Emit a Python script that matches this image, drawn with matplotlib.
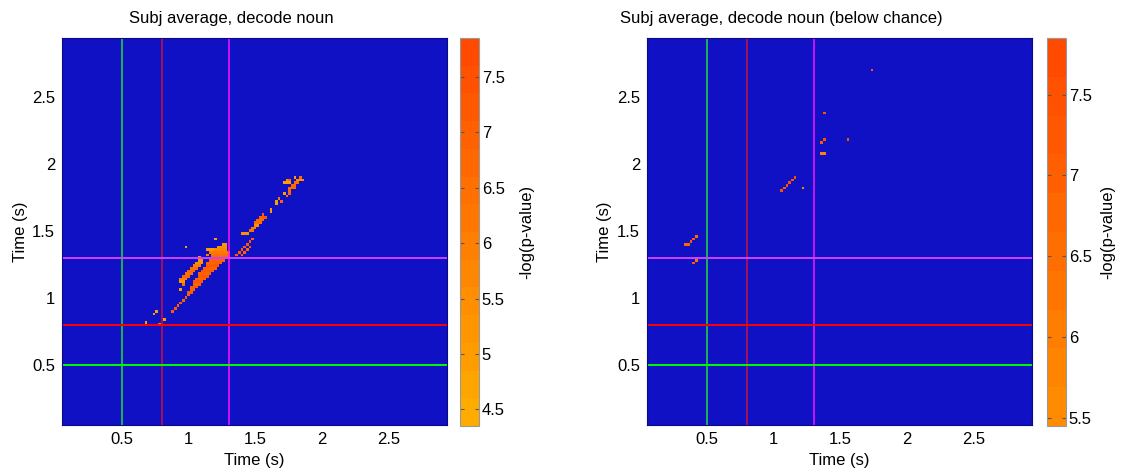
import numpy as np
import matplotlib
matplotlib.use('Agg')
import matplotlib.pyplot as plt
from matplotlib.colors import ListedColormap

plt.rcParams['font.family'] = ['Liberation Sans', 'DejaVu Sans']

# time grid of the decoding maps (seconds)
cell = 0.02
t_first = 0.06
n_cells = 145

ticks = [0.5, 1, 1.5, 2, 2.5]
tick_labels = ['0.5', '1', '1.5', '2', '2.5']

# event markers (word onsets)
event_times = [0.5, 0.8, 1.3]
vline_colors = ['#20e030', '#d0103a', '#ff10ff']
hline_colors = ['#00ff00', '#ff0000', '#d040ff']

titles = ['Subj average, decode noun', 'Subj average, decode noun (below chance)']

# significant cells: (y time, x start, x end, -log p)
left_rows = [
    (0.80, 0.68, 0.68, 5.0), (0.82, 0.68, 0.68, 5.2), (0.80, 0.78, 0.78, 6.2),
    (0.84, 0.82, 0.82, 5.0), (0.88, 0.74, 0.74, 5.2), (0.90, 0.76, 0.76, 5.0),
    # thin diagonal
    (0.90, 0.88, 0.88, 7.2), (0.92, 0.90, 0.90, 7.2), (0.94, 0.92, 0.92, 7.0),
    (0.96, 0.94, 0.94, 7.2), (0.98, 0.96, 0.96, 7.0), (1.00, 0.98, 0.98, 7.2),
    (1.02, 1.00, 1.00, 7.0), (1.06, 0.94, 0.94, 5.0), (1.10, 0.96, 0.96, 6.5),
    # main streak
    (1.04, 1.00, 1.02, 7.2), (1.06, 1.02, 1.04, 7.0), (1.08, 1.02, 1.06, 7.2),
    (1.10, 1.04, 1.08, 7.0), (1.12, 1.04, 1.10, 7.2), (1.14, 1.06, 1.12, 7.0),
    (1.16, 1.08, 1.14, 7.2), (1.18, 1.08, 1.16, 7.0), (1.20, 1.10, 1.18, 7.1),
    (1.22, 1.12, 1.20, 7.0), (1.24, 1.14, 1.22, 7.2), (1.26, 1.14, 1.24, 6.9),
    (1.28, 1.16, 1.26, 7.0), (1.30, 1.18, 1.30, 6.8),
    # blob at the crossing
    (1.32, 1.18, 1.30, 6.4), (1.34, 1.16, 1.30, 6.1), (1.36, 1.20, 1.28, 5.8),
    (1.36, 1.14, 1.14, 5.2), (1.36, 1.16, 1.18, 5.0), (1.38, 1.22, 1.28, 5.5),
    (1.40, 1.26, 1.28, 5.3), (1.44, 1.20, 1.20, 5.0), (1.38, 0.98, 0.98, 5.0),
    (1.32, 1.14, 1.14, 6.0),
    # upper streak
    (1.12, 0.94, 0.96, 5.3), (1.14, 0.94, 0.98, 6.0), (1.16, 0.96, 1.00, 6.8),
    (1.18, 0.98, 1.02, 6.5), (1.20, 1.00, 1.04, 6.8), (1.22, 1.02, 1.06, 6.5),
    (1.24, 1.04, 1.08, 6.0), (1.26, 1.06, 1.10, 5.5), (1.28, 1.08, 1.10, 5.2),
    (1.30, 1.08, 1.08, 5.0),
    # double thin line after the crossing
    (1.32, 1.36, 1.36, 7.3), (1.34, 1.38, 1.38, 7.3), (1.36, 1.40, 1.40, 7.2),
    (1.38, 1.42, 1.42, 7.3), (1.40, 1.44, 1.44, 7.2), (1.42, 1.46, 1.46, 7.3),
    (1.44, 1.48, 1.48, 7.0), (1.32, 1.40, 1.40, 7.0), (1.34, 1.42, 1.42, 7.0),
    (1.36, 1.44, 1.44, 6.8), (1.38, 1.46, 1.46, 7.0), (1.48, 1.40, 1.44, 5.5),
    (1.50, 1.46, 1.48, 6.5), (1.52, 1.48, 1.50, 6.0), (1.54, 1.50, 1.52, 5.5),
    (1.56, 1.50, 1.54, 6.5), (1.58, 1.52, 1.56, 6.8), (1.60, 1.54, 1.56, 7.0),
    (1.62, 1.56, 1.56, 7.2), (1.60, 1.58, 1.58, 7.2),
    (1.64, 1.62, 1.62, 5.2), (1.66, 1.62, 1.62, 5.2), (1.70, 1.66, 1.66, 5.0),
    (1.72, 1.66, 1.66, 5.0), (1.74, 1.68, 1.68, 6.2), (1.72, 1.70, 1.70, 7.0),
    # top cluster
    (1.76, 1.74, 1.74, 6.5), (1.78, 1.72, 1.72, 5.0), (1.78, 1.76, 1.76, 6.8),
    (1.80, 1.76, 1.76, 6.8), (1.82, 1.76, 1.80, 6.8), (1.84, 1.78, 1.80, 6.8),
    (1.86, 1.72, 1.76, 5.0), (1.86, 1.80, 1.82, 6.5), (1.88, 1.74, 1.74, 5.5),
    (1.88, 1.76, 1.76, 6.8), (1.88, 1.82, 1.86, 5.5), (1.90, 1.80, 1.80, 5.0),
    (1.90, 1.84, 1.84, 6.5),
]

right_rows = [
    (1.26, 0.40, 0.40, 7.2), (1.28, 0.42, 0.42, 6.3),
    (1.40, 0.34, 0.36, 6.8), (1.42, 0.38, 0.38, 7.3),
    (1.44, 0.40, 0.40, 7.3), (1.46, 0.42, 0.42, 6.5),
    (1.80, 1.06, 1.06, 7.5), (1.82, 1.08, 1.08, 7.3),
    (1.84, 1.10, 1.10, 7.5), (1.86, 1.12, 1.12, 7.6),
    (1.88, 1.14, 1.14, 7.5), (1.90, 1.16, 1.16, 7.6),
    (1.82, 1.22, 1.22, 5.8), (2.08, 1.36, 1.38, 5.9),
    (2.16, 1.36, 1.36, 7.3), (2.18, 1.38, 1.38, 7.6),
    (2.18, 1.56, 1.56, 7.6), (2.38, 1.38, 1.38, 7.6),
    (2.70, 1.74, 1.74, 7.6),
]

# colour scale limits of each panel
cbar_ranges = [(4.35, 7.85, 14), (5.45, 7.85, 10)]
cbar_ticks = [[4.5, 5, 5.5, 6, 6.5, 7, 7.5], [5.5, 6, 6.5, 7, 7.5]]
cbar_tick_labels = [['4.5', '5', '5.5', '6', '6.5', '7', '7.5'],
                    ['5.5', '6', '6.5', '7', '7.5']]

background = '#1010c4'


def orange(v):
    g = 176 - (v - 4.35) * (106 / 3.5)
    return (1.0, g / 255, 0.0)


def to_grid(rows):
    grid = np.full((n_cells, n_cells), np.nan)
    for y, x0, x1, v in rows:
        iy = int(round((y - t_first) / cell))
        i0 = int(round((x0 - t_first) / cell))
        i1 = int(round((x1 - t_first) / cell))
        grid[iy, i0:i1 + 1] = v
    return grid


W, H = 1123, 475
fig = plt.figure(figsize=(W / 100, H / 100), dpi=100)

ax_pos = [(62, 38), (647, 38)]
cb_pos = [(460, 38), (1047, 38)]
title_x = [231, 781]
ylabel_x = [20, 604]
cblabel_x = [527, 1108]

for k, rows in enumerate([left_rows, right_rows]):
    px, py = ax_pos[k]
    ax = fig.add_axes([px / W, 1 - (py + 387) / H, 385 / W, 387 / H])
    vmin, vmax, n = cbar_ranges[k]
    step = (vmax - vmin) / n
    cmap = ListedColormap([orange(vmin + (i + 0.5) * step) for i in range(n)])
    cmap.set_bad(background)

    lo = t_first - cell / 2
    hi = lo + cell * n_cells
    im = ax.imshow(np.ma.masked_invalid(to_grid(rows)), origin='lower', cmap=cmap,
                   vmin=vmin, vmax=vmax, extent=[lo, hi, lo, hi],
                   interpolation='nearest', aspect='auto')
    ax.set_xlim(0.05, 2.94)
    ax.set_ylim(0.05, 2.94)

    for t, c in zip(event_times, vline_colors):
        ax.axvline(t, color=c, lw=1.1)
    for t, c in zip(event_times, hline_colors):
        ax.axhline(t, color=c, lw=1.4)

    ax.set_xticks(ticks)
    ax.set_xticklabels(tick_labels)
    ax.set_yticks(ticks)
    ax.set_yticklabels(tick_labels)
    ax.tick_params(length=0, labelsize=12, pad=5)
    for s in ax.spines.values():
        s.set_color('#0a0a80')
        s.set_linewidth(0.8)

    cx, cy = cb_pos[k]
    cax = fig.add_axes([cx / W, 1 - (cy + 388) / H, 19 / W, 388 / H])
    cb = fig.colorbar(im, cax=cax)
    cb.set_ticks(cbar_ticks[k])
    cb.set_ticklabels(cbar_tick_labels[k])
    cax.tick_params(direction='in', left=True, right=True, length=3,
                    color='#555555', labelsize=12, pad=2)
    cb.outline.set_edgecolor('#999999')
    cb.outline.set_linewidth(0.8)

    fig.text(title_x[k] / W, 1 - 19 / H, titles[k], ha='center', va='center', fontsize=12)
    fig.text((px + 192) / W, 1 - 461 / H, 'Time (s)', ha='center', va='center', fontsize=12)
    fig.text(ylabel_x[k] / W, 1 - 232 / H, 'Time (s)', ha='center', va='center',
             rotation=90, fontsize=12)
    fig.text(cblabel_x[k] / W, 1 - 232 / H, '-log(p-value)', ha='center', va='center',
             rotation=90, fontsize=12)

fig.savefig('out.png', dpi=100)
